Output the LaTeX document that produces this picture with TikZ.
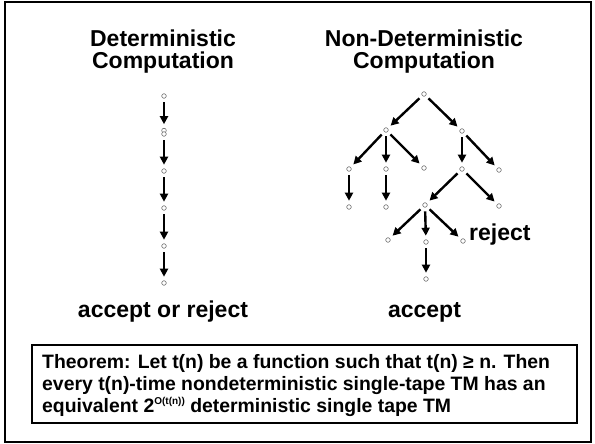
\documentclass[tikz,border=0pt]{standalone}
\usepackage{fontspec}
\setmainfont{Liberation Sans}
\usetikzlibrary{arrows.meta}
\tikzset{
  st/.style={circle,draw=black!65,line width=0.5pt,fill=white,minimum size=4.6pt,inner sep=0pt,outer sep=4pt},
  arr/.style={line width=2.4pt,-{Triangle[length=8pt,width=8pt]}},
  big/.style={font=\bfseries\fontsize{23}{22}\selectfont,inner sep=0pt},
  thm/.style={font=\bfseries\fontsize{19.4}{22}\selectfont,inner sep=0pt,align=left}
}
\begin{document}
\begin{tikzpicture}[x=1pt,y=-1pt]
\useasboundingbox (0,0) rectangle (595,444);
% outer frame and theorem box
\draw[line width=1.6pt] (5,2) rectangle (591,442);
\draw[line width=2pt] (32,345) rectangle (577,423);

% headings (base anchor sits on the last line)
\node[big,anchor=base,align=center] (dt) at (163,69) {Deterministic\\Computation};
\node[big,anchor=base,align=center] (nt) at (424,69) {Non-Deterministic\\Computation};

% deterministic run
\node[st] (d1) at (164,96) {};
\node[st] (d2) at (164,130.5) {};
\node[st] (d2b) at (164,134) {};
\node[st] (d3) at (164,171) {};
\node[st] (d4) at (164,208) {};
\node[st] (d5) at (164,246) {};
\node[st] (d6) at (164,283) {};
\draw[arr] (d1) -- (d2);
\draw[arr] (d2b) -- (d3);
\draw[arr] (d3) -- (d4);
\draw[arr] (d4) -- (d5);
\draw[arr] (d5) -- (d6);

% nondeterministic tree
\node[st] (r) at (424,94) {};
\node[st] (a) at (386,130) {};
\node[st] (b) at (462,131) {};
\node[st] (a1) at (349,169) {};
\node[st] (a2) at (386,169) {};
\node[st] (a3) at (424,168) {};
\node[st] (a1a) at (349,207) {};
\node[st] (a2a) at (386,207) {};
\node[st] (b1) at (462,169) {};
\node[st] (b2) at (499,170) {};
\node[st] (c) at (425,205) {};
\node[st] (b1b) at (499,206) {};
\node[st] (c1) at (388,240) {};
\node[st] (c2) at (426,242) {};
\node[st] (c3) at (463,241) {};
\node[st] (c2a) at (426,279) {};
\draw[arr] (r) -- (a);
\draw[arr] (r) -- (b);
\draw[arr] (a) -- (a1);
\draw[arr] (a) -- (a2);
\draw[arr] (a) -- (a3);
\draw[arr] (a1) -- (a1a);
\draw[arr] (a2) -- (a2a);
\draw[arr] (b) -- (b1);
\draw[arr] (b) -- (b2);
\draw[arr] (b1) -- (c);
\draw[arr] (b1) -- (b1b);
\draw[arr] (c) -- (c1);
\draw[arr] (c) -- (c2);
\draw[arr] (c) -- (c3);
\draw[arr] (c2) -- (c2a);

% outcome labels
\node[big,anchor=base west] (rej) at (469,240) {reject};
\node[big,anchor=base] (acc1) at (163,317) {accept or reject};
\node[big,anchor=base] (acc2) at (424.5,317) {accept};

% theorem (base anchor sits on the last line)
\node[thm,anchor=base west] (th) at (42,412) {Theorem: Let t(n) be a function such that t(n) ≥ n. Then\\every t(n)-time nondeterministic single-tape TM has an\\equivalent 2\raisebox{7.5pt}{\fontsize{10}{10}\selectfont O(t(n))} deterministic single tape TM};
\end{tikzpicture}
\end{document}
